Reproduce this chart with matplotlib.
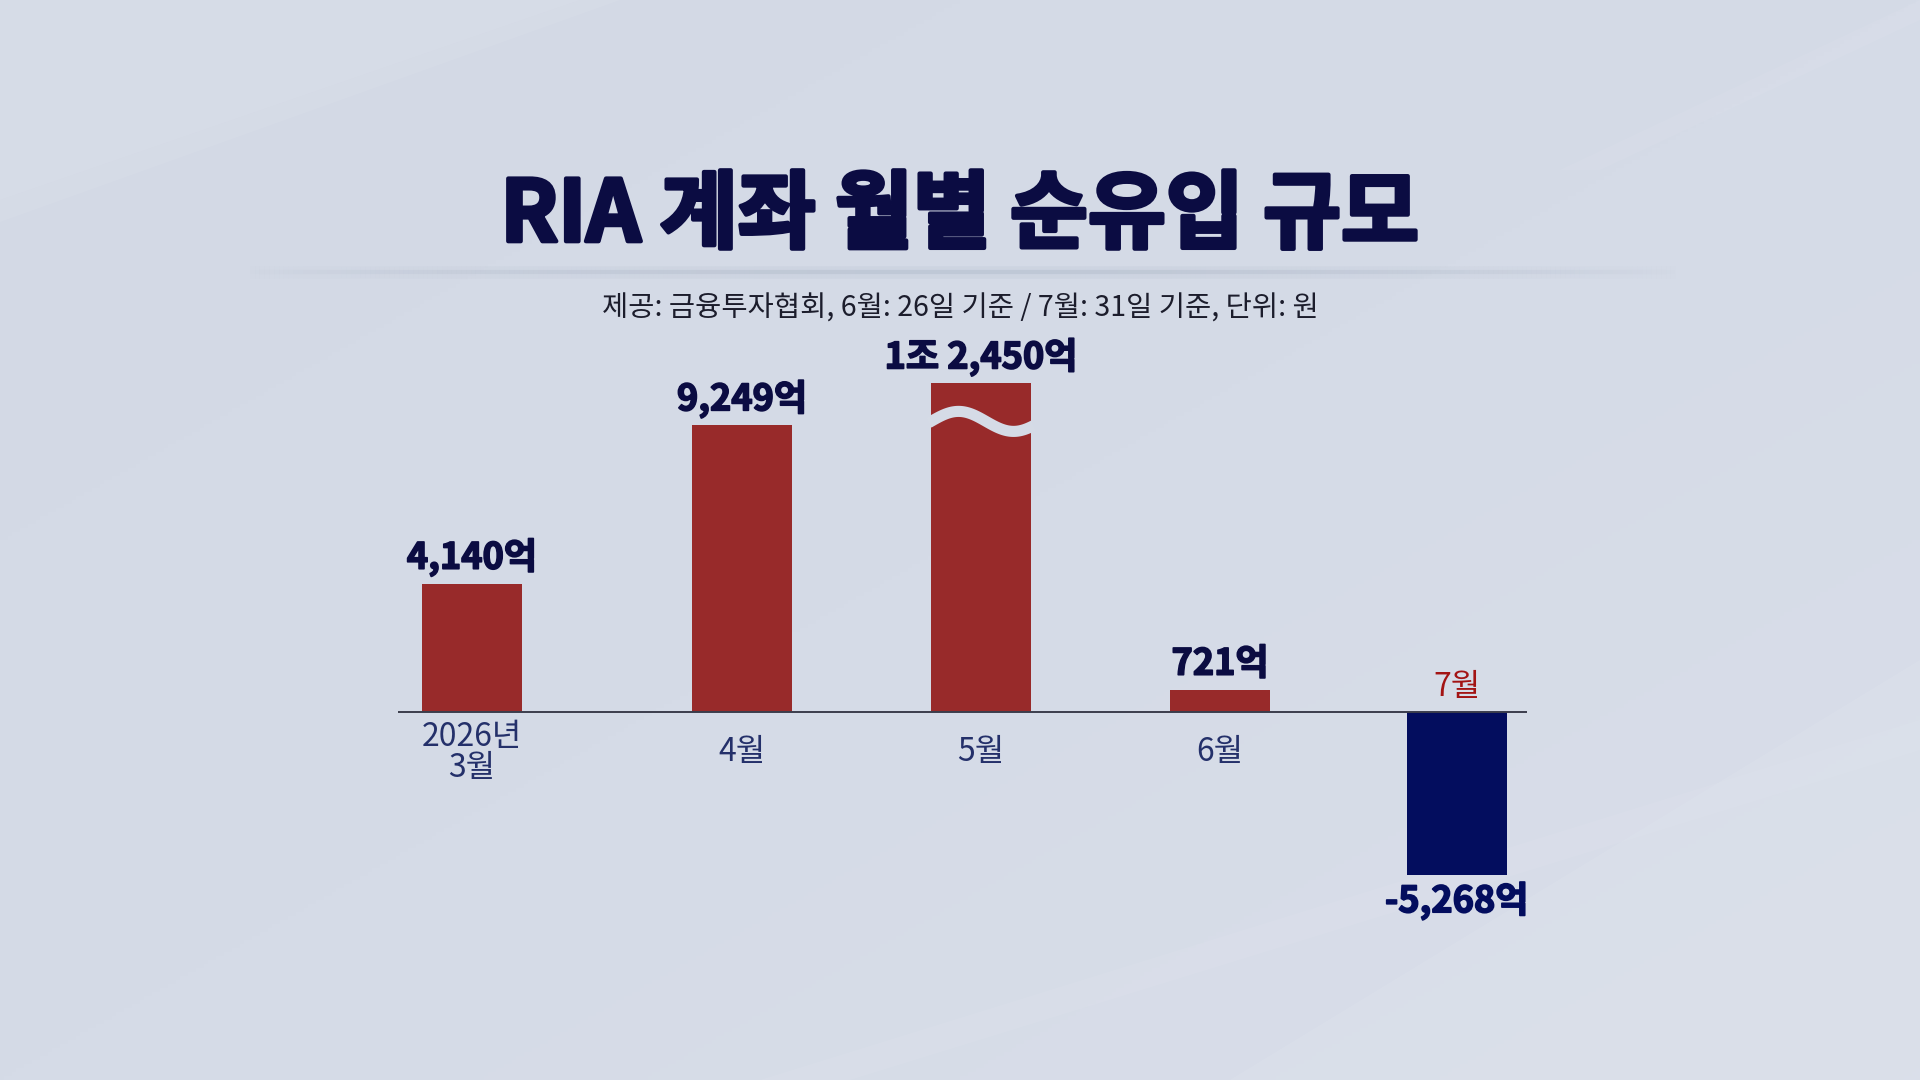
"""RIA 계좌 월별 순유입 규모 — bar chart with a broken bar for May."""

import matplotlib

matplotlib.use("Agg")
import matplotlib.patheffects as pe  # noqa: E402
import matplotlib.pyplot as plt  # noqa: E402
import numpy as np  # noqa: E402
from matplotlib.collections import LineCollection  # noqa: E402
from matplotlib.patches import Polygon  # noqa: E402

plt.rcParams["font.family"] = ["Noto Sans CJK KR", "DejaVu Sans"]

# ── data (unit: 억 원) ────────────────────────────────────────────────────────
MONTHS = ["2026년\n3월", "4월", "5월", "6월", "7월"]
NET_INFLOW = [4140, 9249, 12450, 721, -5268]

TITLE = "RIA 계좌 월별 순유입 규모"
SUBTITLE = "제공: 금융투자협회, 6월: 26일 기준 / 7월: 31일 기준, 단위: 원"

# ── style ────────────────────────────────────────────────────────────────────
BG = "#d5dbe6"
RED = "#982a2a"
NAVY_BAR = "#030d5e"
NAVY_TEXT = "#0b0c42"
TICK_TEXT = "#24306a"
RED_TEXT = "#a31414"

W, H = 1920, 1080
PX_PER_EOK = 0.031          # vertical scale of the bars
BREAK_CAP = 10600           # bars above this get cut with a wave
X_POS = [0.0, 1.13, 2.13, 3.13, 4.12]   # category slots (first gap is wider)
UNIT_PX = 239
FIRST_CENTER_PX = 472
BASE_PX = 712
AX_LEFT_PX, AX_RIGHT_PX = 398, 1527
AX_TOP_PX, AX_BOTTOM_PX = 300, 960
BAR_W = 100 / UNIT_PX


def fmt_eok(v: int) -> str:
    if abs(v) >= 10000:
        jo, rest = divmod(v, 10000)
        return f"{jo}조 {rest:,}억"
    return f"{v:,}억"


def heavy(color: str, w: float) -> list:
    # fake a heavier weight than the installed bold
    return [pe.withStroke(linewidth=w, foreground=color)]


def main() -> None:
    fig = plt.figure(figsize=(W / 100, H / 100), dpi=100)
    fig.patch.set_facecolor(BG)

    # 1. background with soft diagonal streaks ───────────────────────────────
    bg = fig.add_axes([0, 0, 1, 1], zorder=0)
    bg.set_xlim(0, W)
    bg.set_ylim(H, 0)
    bg.axis("off")
    yy, xx = np.mgrid[0:H:4, 0:W:4]
    grad = 0.5 * (xx / W) + 0.5 * (yy / H)
    bg.imshow(
        grad,
        extent=(0, W, H, 0),
        cmap=matplotlib.colors.LinearSegmentedColormap.from_list(
            "bg", ["#d3d9e5", "#d5dbe7", "#d9dee9"]
        ),
        aspect="auto",
        zorder=0,
    )
    streaks = [
        ([(0, 0), (580, 0), (0, 200)], "#dbe0ea", 0.45),
        ([(0, 200), (580, 0), (620, 0), (0, 222)], "#ffffff", 0.06),
        ([(1230, 1080), (1920, 660), (1920, 1080)], "#dde2ec", 0.45),
        ([(760, 1080), (1920, 720), (1920, 750), (850, 1080)], "#ffffff", 0.05),
        ([(1560, 170), (1920, 0), (1920, 20), (1600, 170)], "#ffffff", 0.05),
    ]
    for pts, col, a in streaks:
        bg.add_patch(Polygon(pts, closed=True, facecolor=col, edgecolor="none", alpha=a, zorder=1))

    # title + soft divider
    bg.text(960, 216, TITLE, ha="center", va="center", fontsize=61,
            fontweight="bold", color=NAVY_TEXT, zorder=3,
            path_effects=heavy(NAVY_TEXT, 3))
    xs = np.linspace(245, 1680, 300)
    segs = [[(xs[i], 272), (xs[i + 1], 272)] for i in range(len(xs) - 1)]
    alpha = np.sin(np.linspace(0, np.pi, len(segs))) ** 0.7
    cols = [(0.66, 0.70, 0.77, 0.35 * a) for a in alpha]
    bg.add_collection(LineCollection(segs, colors=cols, linewidths=3, zorder=2))
    cols2 = [(0.66, 0.70, 0.77, 0.15 * a) for a in alpha]
    bg.add_collection(LineCollection(segs, colors=cols2, linewidths=9, zorder=2))
    bg.text(960, 309, SUBTITLE, ha="center", va="center", fontsize=20.5,
            fontweight="medium", color="#1c1d2c", zorder=3)

    # 2. chart axes mapped onto pixel layout ─────────────────────────────────
    ax = fig.add_axes(
        [
            AX_LEFT_PX / W,
            (H - AX_BOTTOM_PX) / H,
            (AX_RIGHT_PX - AX_LEFT_PX) / W,
            (AX_BOTTOM_PX - AX_TOP_PX) / H,
        ],
        zorder=2,
    )
    ax.patch.set_alpha(0)
    ax.set_xlim(
        (AX_LEFT_PX - FIRST_CENTER_PX) / UNIT_PX,
        (AX_RIGHT_PX - FIRST_CENTER_PX) / UNIT_PX,
    )
    ax.set_ylim(
        -(AX_BOTTOM_PX - BASE_PX) / PX_PER_EOK,
        (BASE_PX - AX_TOP_PX) / PX_PER_EOK,
    )
    ax.axis("off")

    values = np.array(NET_INFLOW)
    heights = np.minimum(values, BREAK_CAP)
    colors = [RED if v >= 0 else NAVY_BAR for v in values]
    ax.bar(X_POS, heights, width=BAR_W, color=colors, zorder=2)
    ax.axhline(0, color="#3b3d4c", lw=1.4, zorder=3)

    # wave break on capped bars
    for x, v, h in zip(X_POS, values, heights):
        if v <= BREAK_CAP:
            continue
        left = x - BAR_W / 2
        wx = np.linspace(left - 0.01, left + BAR_W + 0.01, 120)
        phase = (wx - left) * UNIT_PX / 110 * 2 * np.pi
        wy = h - 38 / PX_PER_EOK + (10 / PX_PER_EOK) * np.sin(phase)
        ax.plot(wx, wy, color=BG, lw=8, solid_capstyle="butt", zorder=4)

    for x, v, h, m in zip(X_POS, values, heights, MONTHS):
        if v >= 0:
            ax.annotate(fmt_eok(v), (x, h), xytext=(0, 5), textcoords="offset points",
                        ha="center", va="bottom", fontsize=26, fontweight="bold",
                        color=NAVY_TEXT, zorder=5, path_effects=heavy(NAVY_TEXT, 1.2))
            ax.annotate(m, (x, 0), xytext=(0, -29), textcoords="offset points",
                        ha="center", va="center", fontsize=23, fontweight="medium",
                        color=TICK_TEXT, linespacing=0.95, zorder=5)
        else:
            ax.annotate(fmt_eok(v), (x, h), xytext=(0, -5), textcoords="offset points",
                        ha="center", va="top", fontsize=26, fontweight="bold",
                        color=NAVY_BAR, zorder=5, path_effects=heavy(NAVY_BAR, 1.2))
            ax.annotate(m, (x, 0), xytext=(0, 18), textcoords="offset points",
                        ha="center", va="center", fontsize=23, fontweight="medium",
                        color=RED_TEXT, zorder=5)

    fig.savefig("out.png", dpi=100, facecolor=BG)


if __name__ == "__main__":
    main()
